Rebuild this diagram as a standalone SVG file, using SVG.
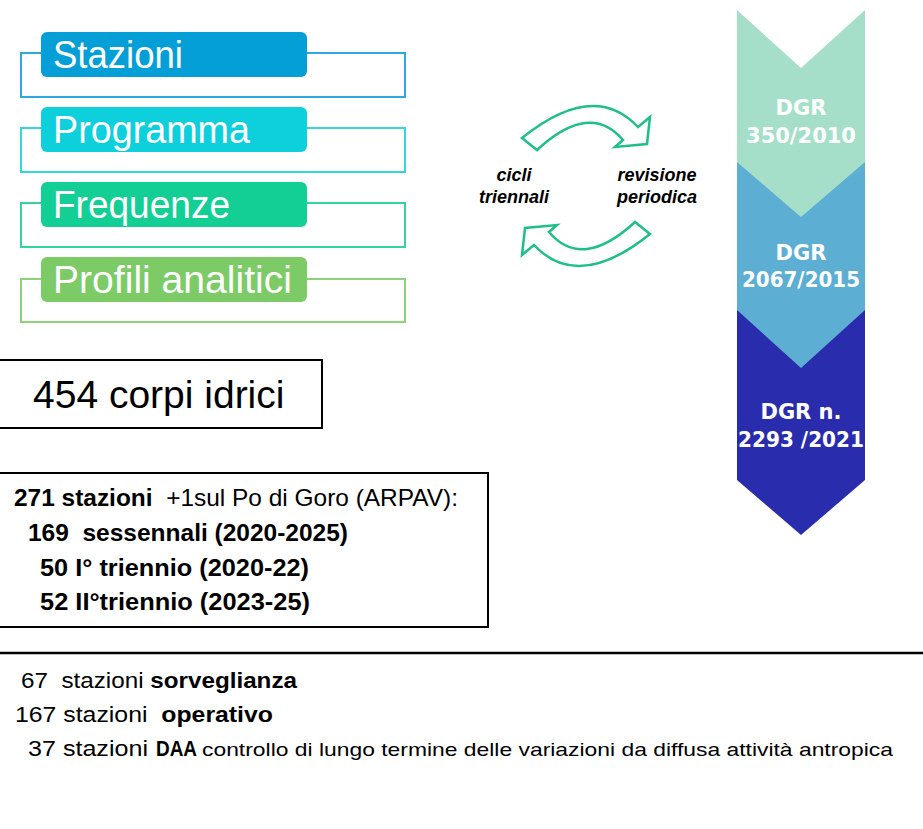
<svg xmlns="http://www.w3.org/2000/svg" width="923" height="829" viewBox="0 0 923 829">
<style>
.lbl{font-family:"Liberation Sans",Arial,sans-serif;font-size:38px;fill:#ffffff}
.brk{fill:none;stroke-width:2}
.box{fill:#ffffff;stroke:#000000;stroke-width:2}
.t{font-family:"Liberation Sans",Arial,sans-serif;fill:#000000}
.b{font-weight:bold}
.cyc{font-family:"Liberation Sans",Arial,sans-serif;font-size:18px;font-weight:bold;font-style:italic;fill:#000000;text-anchor:middle}
.arr{fill:#ffffff;stroke:#1fbf8a;stroke-width:2.5;stroke-linejoin:miter}
.dgr{font-family:"DejaVu Sans",Verdana,sans-serif;font-size:21px;font-weight:bold;fill:#ffffff;text-anchor:middle}
</style>
<rect x="0" y="0" width="923" height="829" fill="#ffffff"/>

<g id="stazioni">
<path class="brk" stroke="#2ea8df" d="M45,53 H21 V97 H405 V53 H305"/>
<rect x="41" y="32" width="266" height="45" rx="6" fill="#059fd8"/>
<text class="lbl" x="53" y="68" textLength="130" lengthAdjust="spacingAndGlyphs">Stazioni</text>
</g>
<g id="programma">
<path class="brk" stroke="#35d6e0" d="M45,128 H21 V172 H405 V128 H305"/>
<rect x="41" y="107" width="266" height="45" rx="6" fill="#0ed0dc"/>
<text class="lbl" x="53" y="143" textLength="197" lengthAdjust="spacingAndGlyphs">Programma</text>
</g>
<g id="frequenze">
<path class="brk" stroke="#33d4a2" d="M45,203 H21 V247 H405 V203 H305"/>
<rect x="41" y="182" width="266" height="45" rx="6" fill="#13cf96"/>
<text class="lbl" x="53" y="218" textLength="177" lengthAdjust="spacingAndGlyphs">Frequenze</text>
</g>
<g id="profili">
<path class="brk" stroke="#8dd279" d="M45,279 H21 V322 H405 V279 H305"/>
<rect x="41" y="257" width="266" height="45" rx="6" fill="#7ccb66"/>
<text class="lbl" x="53" y="293" textLength="239" lengthAdjust="spacingAndGlyphs">Profili analitici</text>
</g>

<g id="corpi">
<rect class="box" x="-2" y="360" width="324" height="68"/>
<text class="t" x="33" y="408" font-size="39">454 corpi idrici</text>
</g>

<g id="stazioni271">
<rect class="box" x="-2" y="473" width="490" height="154"/>
<text class="t" x="14" y="506" font-size="24" textLength="444" lengthAdjust="spacingAndGlyphs" xml:space="preserve"><tspan class="b">271 stazioni</tspan>  +1sul Po di Goro (ARPAV):</text>
<text class="t b" x="28" y="541" font-size="24" textLength="320" lengthAdjust="spacingAndGlyphs" xml:space="preserve">169  sessennali (2020-2025)</text>
<text class="t b" x="40" y="576" font-size="24" textLength="269" lengthAdjust="spacingAndGlyphs">50 I° triennio (2020-22)</text>
<text class="t b" x="40" y="610" font-size="24" textLength="270" lengthAdjust="spacingAndGlyphs">52 II°triennio (2023-25)</text>
</g>

<g id="cycle">
<path id="arrow-top" class="arr" d="M522,138 Q594,80 638,127 L650,117 L647,144 L615,147 L623,140 Q590,101 537,150 Z"/>
<path id="arrow-bottom" class="arr" transform="rotate(180 586 186)" d="M522,138 Q594,80 638,127 L650,117 L647,144 L615,147 L623,140 Q590,101 537,150 Z"/>
<text class="cyc" x="514" y="181">cicli</text>
<text class="cyc" x="514" y="203">triennali</text>
<text class="cyc" x="657" y="181">revisione</text>
<text class="cyc" x="657" y="203">periodica</text>
</g>

<g id="dgr">
<polygon points="737,310 865,310 865,480 801,535 737,480" fill="#2a2cae"/>
<polygon points="737,162 865,162 865,310 801,368 737,310" fill="#5daed3"/>
<polygon points="737,10 801,68 865,10 865,162 801,217 737,162" fill="#a6dfc9"/>
<text class="dgr" x="801" y="115">DGR</text>
<text class="dgr" x="801" y="143">350/2010</text>
<text class="dgr" x="801" y="260">DGR</text>
<text class="dgr" x="801" y="287" textLength="118" lengthAdjust="spacingAndGlyphs">2067/2015</text>
<text class="dgr" x="801" y="419">DGR n.</text>
<text class="dgr" x="801" y="447" textLength="126" lengthAdjust="spacingAndGlyphs">2293 /2021</text>
</g>

<line x1="0" y1="653" x2="923" y2="653" stroke="#000000" stroke-width="2.5"/>

<g id="tipi">
<text class="t" x="21" y="688" font-size="22" textLength="276" lengthAdjust="spacingAndGlyphs" xml:space="preserve">67  stazioni <tspan class="b">sorveglianza</tspan></text>
<text class="t" x="15" y="722" font-size="22" textLength="258" lengthAdjust="spacingAndGlyphs" xml:space="preserve">167 stazioni  <tspan class="b">operativo</tspan></text>
<text class="t" x="28" y="756" font-size="22" textLength="120" lengthAdjust="spacingAndGlyphs">37 stazioni</text>
<text class="t b" x="156" y="756" font-size="22" textLength="41" lengthAdjust="spacingAndGlyphs">DAA</text>
<text class="t" x="202" y="756" font-size="19" textLength="691" lengthAdjust="spacingAndGlyphs">controllo di lungo termine delle variazioni da diffusa attività antropica</text>
</g>
</svg>
